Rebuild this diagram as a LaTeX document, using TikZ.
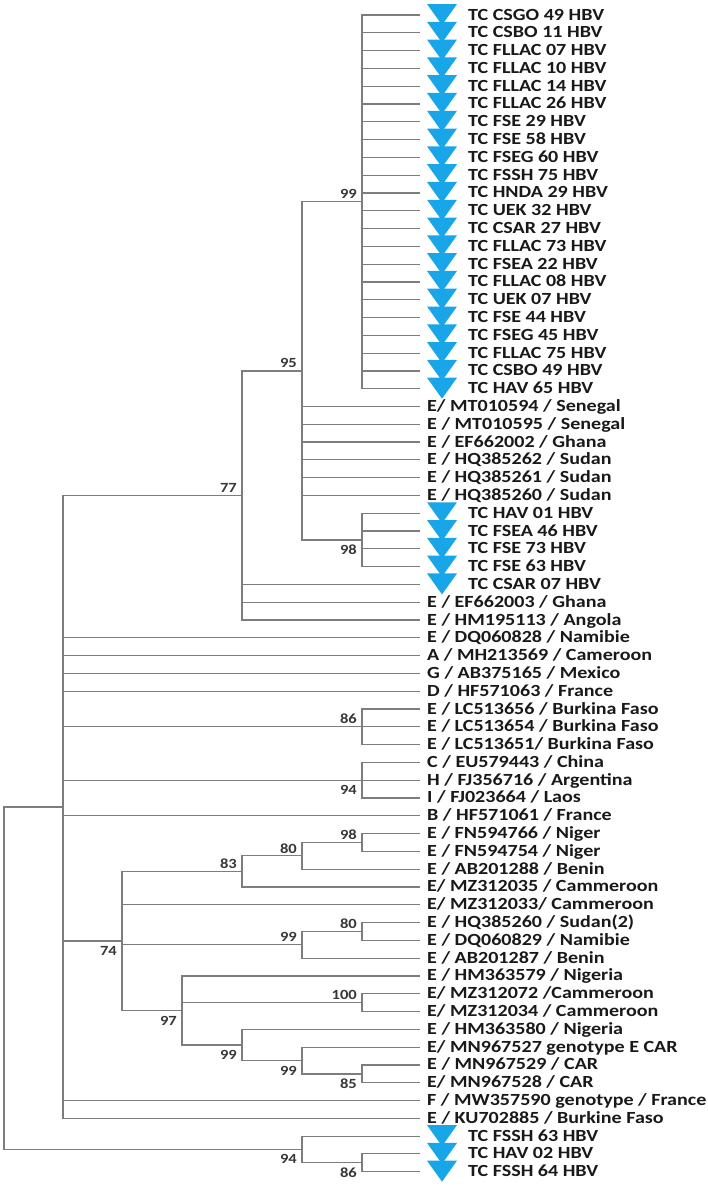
\documentclass[tikz,border=0pt]{standalone}
\usepackage{fontspec}
\setmainfont{Carlito}[FakeStretch=1.18]
\definecolor{tricol}{RGB}{24,166,232}
\definecolor{edgecol}{RGB}{125,125,125}
\definecolor{bscol}{RGB}{55,55,55}
\newcommand\rowy[1]{15+(#1-1)*17.795}
\newcommand\tcleaf[2]{%
  \pgfmathsetmacro\yy{\rowy{#1}}%
  \fill[tricol] (427,\yy-11) -- (457,\yy-11) -- (442,\yy+10) -- cycle;
  \node[leaflabel] (t#1) at (468,\yy+5) {#2};}
\newcommand\refleaf[2]{%
  \pgfmathsetmacro\yy{\rowy{#1}}%
  \node[leaflabel] (t#1) at (427,\yy+5) {#2};}
\begin{document}
\begin{tikzpicture}[x=1pt,y=-1pt,
  edge/.style={draw=edgecol,line width=1.2pt},
  leaflabel/.style={anchor=base west,inner sep=0pt,font=\fontsize{17}{17}\selectfont\bfseries,text=black!90},
  bslabel/.style={anchor=east,inner sep=0pt,font=\fontsize{14}{14}\selectfont\bfseries,text=bscol}]
\useasboundingbox[fill=white] (0,0) rectangle (708,1187);
% leaf end points
\foreach \i in {1,...,66}{\pgfmathsetmacro\yy{\rowy{\i}}\coordinate (l\i) at (420,\yy);}
% internal nodes
\coordinate (n99a) at (362,201.85);
\coordinate (n98a) at (362,539.96);
\coordinate (n95)  at (302,370.9);
\coordinate (n77)  at (242,495.47);
\coordinate (n86a) at (362,726.8);
\coordinate (n94a) at (362,780.2);
\coordinate (n98b) at (362,842.5);
\coordinate (n80a) at (302,855.85);
\coordinate (n83)  at (242,871.4);
\coordinate (n80b) at (362,931.5);
\coordinate (n99b) at (302,944.85);
\coordinate (n100) at (362,1002.7);
\coordinate (n85)  at (362,1073.9);
\coordinate (n99d) at (302,1060.55);
\coordinate (n99c) at (242,1044.97);
\coordinate (n97)  at (182,1010.5);
\coordinate (n74)  at (122,940.95);
\coordinate (npol) at (63,806.9);
\coordinate (n86b) at (362,1162.8);
\coordinate (n94b) at (302,1149.45);
\coordinate (root) at (4,978.2);
% edges
\foreach \i in {1,...,22}{\draw[edge] (n99a) |- (l\i);}
\foreach \i in {29,...,32}{\draw[edge] (n98a) |- (l\i);}
\draw[edge] (n95) |- (n99a);
\foreach \i in {23,...,28}{\draw[edge] (n95) |- (l\i);}
\draw[edge] (n95) |- (n98a);
\draw[edge] (n77) |- (n95);
\foreach \i in {33,34,35}{\draw[edge] (n77) |- (l\i);}
\foreach \i in {40,41,42}{\draw[edge] (n86a) |- (l\i);}
\foreach \i in {43,44,45}{\draw[edge] (n94a) |- (l\i);}
\foreach \i in {47,48}{\draw[edge] (n98b) |- (l\i);}
\draw[edge] (n80a) |- (n98b);
\draw[edge] (n80a) |- (l49);
\draw[edge] (n83) |- (n80a);
\draw[edge] (n83) |- (l50);
\foreach \i in {52,53}{\draw[edge] (n80b) |- (l\i);}
\draw[edge] (n99b) |- (n80b);
\draw[edge] (n99b) |- (l54);
\foreach \i in {56,57}{\draw[edge] (n100) |- (l\i);}
\foreach \i in {60,61}{\draw[edge] (n85) |- (l\i);}
\draw[edge] (n99d) |- (l59);
\draw[edge] (n99d) |- (n85);
\draw[edge] (n99c) |- (l58);
\draw[edge] (n99c) |- (n99d);
\draw[edge] (n97) |- (l55);
\draw[edge] (n97) |- (n100);
\draw[edge] (n97) |- (n99c);
\draw[edge] (n74) |- (n83);
\draw[edge] (n74) |- (l51);
\draw[edge] (n74) |- (n99b);
\draw[edge] (n74) |- (n97);
\draw[edge] (npol) |- (n77);
\foreach \i in {36,37,38,39}{\draw[edge] (npol) |- (l\i);}
\draw[edge] (npol) |- (n86a);
\draw[edge] (npol) |- (n94a);
\draw[edge] (npol) |- (l46);
\draw[edge] (npol) |- (n74);
\draw[edge] (npol) |- (l62);
\draw[edge] (npol) |- (l63);
\foreach \i in {65,66}{\draw[edge] (n86b) |- (l\i);}
\draw[edge] (n94b) |- (l64);
\draw[edge] (n94b) |- (n86b);
\draw[edge] (root) |- (npol);
\draw[edge] (root) |- (n94b);
% leaves
\tcleaf{1}{TC CSGO 49 HBV}
\tcleaf{2}{TC CSBO 11 HBV}
\tcleaf{3}{TC FLLAC 07 HBV}
\tcleaf{4}{TC FLLAC 10 HBV}
\tcleaf{5}{TC FLLAC 14 HBV}
\tcleaf{6}{TC FLLAC 26 HBV}
\tcleaf{7}{TC FSE 29 HBV}
\tcleaf{8}{TC FSE 58 HBV}
\tcleaf{9}{TC FSEG 60 HBV}
\tcleaf{10}{TC FSSH 75 HBV}
\tcleaf{11}{TC HNDA 29 HBV}
\tcleaf{12}{TC UEK 32 HBV}
\tcleaf{13}{TC CSAR 27 HBV}
\tcleaf{14}{TC FLLAC 73 HBV}
\tcleaf{15}{TC FSEA 22 HBV}
\tcleaf{16}{TC FLLAC 08 HBV}
\tcleaf{17}{TC UEK 07 HBV}
\tcleaf{18}{TC FSE 44 HBV}
\tcleaf{19}{TC FSEG 45 HBV}
\tcleaf{20}{TC FLLAC 75 HBV}
\tcleaf{21}{TC CSBO 49 HBV}
\tcleaf{22}{TC HAV 65 HBV}
\refleaf{23}{E/ MT010594 / Senegal}
\refleaf{24}{E / MT010595 / Senegal}
\refleaf{25}{E / EF662002 / Ghana}
\refleaf{26}{E / HQ385262 / Sudan}
\refleaf{27}{E / HQ385261 / Sudan}
\refleaf{28}{E / HQ385260 / Sudan}
\tcleaf{29}{TC HAV 01 HBV}
\tcleaf{30}{TC FSEA 46 HBV}
\tcleaf{31}{TC FSE 73 HBV}
\tcleaf{32}{TC FSE 63 HBV}
\tcleaf{33}{TC CSAR 07 HBV}
\refleaf{34}{E / EF662003 / Ghana}
\refleaf{35}{E / HM195113 / Angola}
\refleaf{36}{E / DQ060828 / Namibie}
\refleaf{37}{A / MH213569 / Cameroon}
\refleaf{38}{G / AB375165 / Mexico}
\refleaf{39}{D / HF571063 / France}
\refleaf{40}{E / LC513656 / Burkina Faso}
\refleaf{41}{E / LC513654 / Burkina Faso}
\refleaf{42}{E / LC513651/ Burkina Faso}
\refleaf{43}{C / EU579443 / China}
\refleaf{44}{H / FJ356716 / Argentina}
\refleaf{45}{I / FJ023664 / Laos}
\refleaf{46}{B / HF571061 / France}
\refleaf{47}{E / FN594766 / Niger}
\refleaf{48}{E / FN594754 / Niger}
\refleaf{49}{E / AB201288 / Benin}
\refleaf{50}{E/ MZ312035 / Cammeroon}
\refleaf{51}{E/ MZ312033/ Cammeroon}
\refleaf{52}{E / HQ385260 / Sudan(2)}
\refleaf{53}{E / DQ060829 / Namibie}
\refleaf{54}{E / AB201287 / Benin}
\refleaf{55}{E / HM363579 / Nigeria}
\refleaf{56}{E/ MZ312072 /Cammeroon}
\refleaf{57}{E/ MZ312034 / Cammeroon}
\refleaf{58}{E / HM363580 / Nigeria}
\refleaf{59}{E/ MN967527 genotype E CAR}
\refleaf{60}{E / MN967529 / CAR}
\refleaf{61}{E/ MN967528 / CAR}
\refleaf{62}{F / MW357590 genotype / France}
\refleaf{63}{E / KU702885 / Burkine Faso}
\tcleaf{64}{TC FSSH 63 HBV}
\tcleaf{65}{TC HAV 02 HBV}
\tcleaf{66}{TC FSSH 64 HBV}
% bootstrap values
\node[bslabel] (b99a) at (357,194) {99};
\node[bslabel] (b95)  at (297,362.7) {95};
\node[bslabel] (b77)  at (237,488.3) {77};
\node[bslabel] (b98a) at (357,550) {98};
\node[bslabel] (b86a) at (357,718.3) {86};
\node[bslabel] (b94a) at (357,790) {94};
\node[bslabel] (b98b) at (357,835) {98};
\node[bslabel] (b80a) at (297,848.3) {80};
\node[bslabel] (b83)  at (237,863.3) {83};
\node[bslabel] (b74)  at (117,950.7) {74};
\node[bslabel] (b80b) at (357,924) {80};
\node[bslabel] (b99b) at (297,936.7) {99};
\node[bslabel] (b100) at (357,995) {100};
\node[bslabel] (b97)  at (177,1020.7) {97};
\node[bslabel] (b99c) at (237,1055) {99};
\node[bslabel] (b99d) at (297,1070.7) {99};
\node[bslabel] (b85)  at (357,1083.3) {85};
\node[bslabel] (b94b) at (297,1159.3) {94};
\node[bslabel] (b86b) at (357,1172.7) {86};
\end{tikzpicture}
\end{document}
